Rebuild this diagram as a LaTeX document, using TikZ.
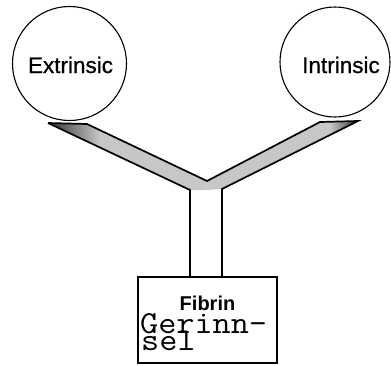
\documentclass[tikz,border=0pt]{standalone}
\usepackage{fontspec}
\setmainfont{Liberation Sans}
\newfontfamily\pathwayfont[FakeBold=0.7]{Liberation Sans}
\usetikzlibrary{positioning}
\usetikzlibrary{calc}
\tikzstyle{pathway}=[circle,draw,line width=1.1pt,inner sep=0pt]
\tikzstyle{factor}=[font=\fontsize{22.5}{26}\pathwayfont,inner sep=0pt,anchor=base]
\tikzstyle{clotbox}=[draw,line width=1.4pt,minimum width=139pt,minimum height=86pt,inner sep=0pt]
\tikzstyle{mono}=[font=\fontsize{32}{32}\selectfont\ttfamily,inner sep=0pt,anchor=base west]
\tikzstyle{channel}=[draw,line width=1.7pt,line join=miter]

\begin{document}
\begin{tikzpicture}[x=1pt,y=-1pt]

  \useasboundingbox (0,0) rectangle (391,365);

  % the two pathways
  \node[pathway,minimum size=114pt] (extr) at (69.5,63.5) {};
  \node[pathway,minimum size=110pt] (intr) at (335,62) {};
  \node[factor] (extrtext) at (70.5,73) {Extrinsic};
  \node[factor] (intrtext) at (341,73) {Intrinsic};

  % clot box
  \node[clotbox] (clot) at (207.5,320) {};
  \node[font=\fontsize{20}{22}\selectfont\bfseries,inner sep=0pt,anchor=base] (fibrin) at (207.5,310.5) {Fibrin};
  \node[mono] (gerinn) at (140,333) {\scalebox{1.1}[1]{Gerinn-}};
  \node[mono] (sel) at (141,350) {\scalebox{1.1}[1]{sel}};

  % corner points of the Y
  \foreach \name/\x/\y in {ltip/48/123, lbend/87/124, vee/207/181, rbend/320/122, rtip/358/121,
                           rfoot/222/189, rbase/222/277, lbase/190/277, lfoot/190/190, mid/206/190,
                           ldark/100/130, ldarkb/100/147, rdark/330/122, rdarkb/330/135.3}
     \coordinate (\name) at (\x,\y);

  % grey arms, darker at the tips
  \fill[black!22] (ltip) -- (lbend) -- (vee) -- (mid) -- (lfoot) -- cycle;
  \fill[black!22] (vee) -- (rbend) -- (rtip) -- (rfoot) -- (mid) -- cycle;
  \shade[left color=black!80, right color=black!22] (ltip) -- (lbend) -- (ldark) -- (ldarkb) -- cycle;
  \shade[left color=black!22, right color=black!80] (rdark) -- (rtip) -- (rdarkb) -- cycle;

  % outline of the Y
  \draw[channel] (ltip) -- (lbend) -- (vee) -- (rbend) -- (rtip) -- (rfoot) -- (rbase);
  \draw[channel] (lbase) -- (lfoot) -- (ltip);

\end{tikzpicture}
\end{document}
